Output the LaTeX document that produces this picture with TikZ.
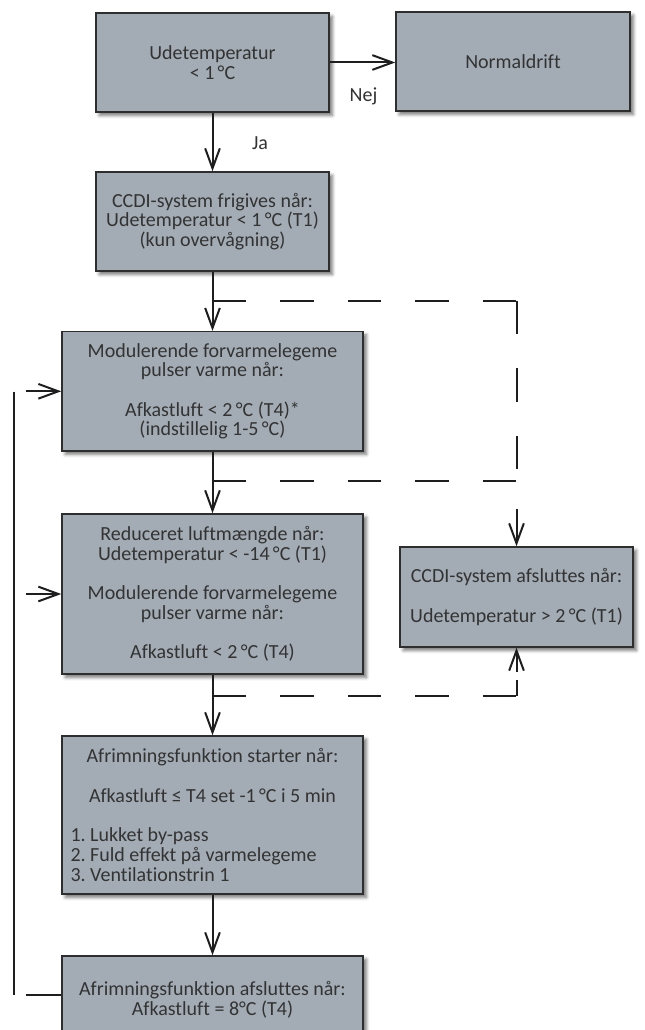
\documentclass[tikz,border=0pt]{standalone}
\usepackage{fontspec}
\setmainfont{Carlito}[Ligatures={NoCommon}]
\usetikzlibrary{arrows.meta,shadows.blur}
\definecolor{boxfill}{HTML}{A3ACB5}
\definecolor{boxline}{HTML}{2E2E2E}
\definecolor{txt}{HTML}{333333}
\definecolor{linec}{HTML}{1E1E1E}
\begin{document}
\begin{tikzpicture}[x=0.75pt,y=-0.75pt,
  font=\fontsize{15}{14.8}\selectfont,
  box/.style={draw=boxline, line width=1.1pt, fill=boxfill, text=txt,
    inner sep=0pt, align=center,
    blur shadow={shadow xshift=2.5pt, shadow yshift=-2.5pt,
      shadow blur radius=2.5pt, shadow opacity=55}},
  conn/.style={line width=1.5pt, draw=linec},
  arr/.style={conn, -{Straight Barb[length=15pt,width=11pt,line width=1.5pt]}},
  dashl/.style={conn, dash pattern=on 25.1pt off 25.6pt},
  lbl/.style={text=txt, inner sep=0pt}]
\useasboundingbox (0,0) rectangle (644,1030);
\clip (0,0) rectangle (644,1030);

% boxes
\node[box, minimum width=174.75pt, minimum height=74.25pt] (b1) at (212.5,62.5)
  {Udetemperatur\\< 1\,°C};
\node[box, minimum width=175.5pt, minimum height=74.25pt] (nd) at (513,61.5)
  {Normaldrift};
\node[box, minimum width=174.75pt, minimum height=74.25pt] (b2) at (212.5,221.5)
  {CCDI-system frigives når:\\Udetemperatur < 1\,°C (T1)\\(kun overvågning)};
\node[box, minimum width=225.75pt, minimum height=89.5pt] (b3) at (212.5,391.3)
  {Modulerende forvarmelegeme\\pulser varme når:\\[14.8pt]Afkastluft < 2\,°C (T4)*\\(indstillelig 1-5\,°C)};
\node[box, minimum width=225.75pt, minimum height=120pt] (b4) at (212.5,594)
  {Reduceret luftmængde når:\\Udetemperatur < -14\,°C (T1)\\[14.8pt]Modulerende forvarmelegeme\\pulser varme når:\\[14.8pt]Afkastluft < 2\,°C (T4)};
\node[box, minimum width=174.75pt, minimum height=75pt] (b5) at (516.5,597)
  {CCDI-system afsluttes når:\\[14.8pt]Udetemperatur > 2\,°C (T1)};
\node[box, minimum width=225.75pt, minimum height=118.5pt] (b6) at (212.5,815)
  {Afrimningsfunktion starter når:\\[14.8pt]Afkastluft ≤ T4 set -1\,°C i 5 min\\[14.8pt]\makebox[213pt][l]{1.\ Lukket by-pass}\\\makebox[213pt][l]{2.\ Fuld effekt på varmelegeme}\\\makebox[213pt][l]{3.\ Ventilationstrin 1}};
\node[box, minimum width=225.75pt, minimum height=66pt] (b7) at (212.5,1000)
  {Afrimningsfunktion afsluttes når:\\Afkastluft = 8°C (T4)};

% labels
\node[lbl] (nej) at (363.5,96.7) {Nej};
\node[lbl] (ja) at (260,143) {Ja};

% main flow
\draw[arr] (b1.east) -- (b1.east -| nd.west);
\draw[arr] (b1) -- (b2);
\draw[arr] (b2) -- (b3);
\draw[arr] (b3) -- (b4);
\draw[arr] (b4) -- (b6);
\draw[arr] (b6) -- (b7);

% dashed branches
\coordinate (d1) at (212.5,300.7);
\coordinate (c1) at (516.5,300.7);
\coordinate (d2) at (212.5,481);
\coordinate (c2) at (516.5,481);
\coordinate (d3) at (212.5,695.7);
\coordinate (c3) at (516.5,695.7);
\coordinate (c3e) at (516.5,680);
\coordinate (a5t) at (516.5,509);
\coordinate (a5b) at (516.5,672);
\draw[dashl] (d1) -- (c1);
\draw[dashl] (c1) -- (c2);
\draw[dashl] (d2) -- (c2);
\draw[arr] (a5t) -- (b5.north);
\draw[dashl] (d3) -- (c3);
\draw[conn] (c3) -- (c3e);
\draw[arr] (a5b) -- (b5.south);

% feedback loop
\coordinate (fbtop) at (14.3,391.7);
\coordinate (fbbot) at (14.3,995);
\coordinate (fx) at (25.7,0);
\coordinate (s7) at (25.7,994.5);
\draw[conn] (fbtop) -- (fbbot);
\draw[arr] (fx |- b3.west) -- (b3.west);
\draw[arr] (fx |- b4.west) -- (b4.west);
\draw[conn] (s7) -- (s7 -| b7.west);
\end{tikzpicture}
\end{document}
